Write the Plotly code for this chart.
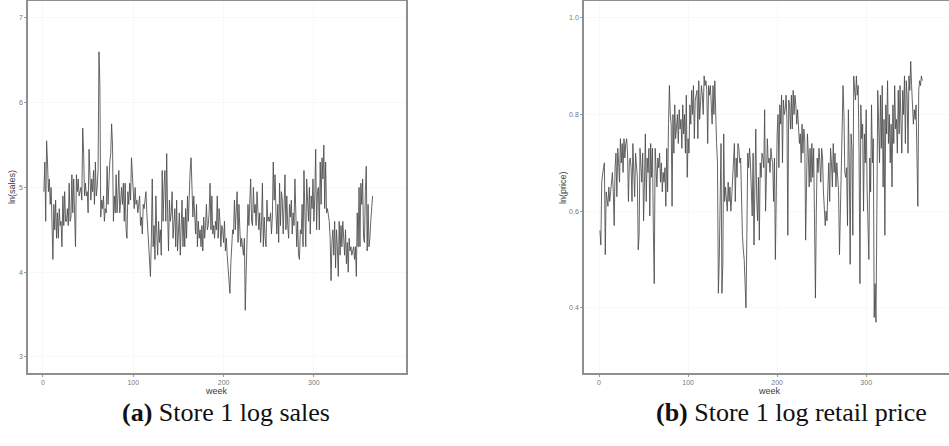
import plotly.graph_objects as go

# ln(sales) for store 1, weeks 1..365
ln_sales = [
    4.95, 5.30, 4.60, 5.55, 5.30, 4.95, 5.10, 4.80, 5.00, 4.70,
    4.15, 4.80, 4.50, 4.85, 4.40, 4.70, 4.40, 4.75, 4.55, 4.60,
    4.30, 4.90, 4.55, 4.95, 4.60, 4.60, 4.75, 4.55, 5.05, 4.60,
    4.65, 5.15, 4.70, 5.10, 4.55, 4.30, 5.15, 4.95, 5.10, 4.90,
    4.95, 5.00, 4.85, 5.70, 5.40, 4.90, 5.05, 4.90, 4.95, 4.70,
    5.45, 5.00, 4.85, 5.10, 4.95, 5.20, 4.80, 5.30, 4.90, 5.00,
    5.20, 6.60, 6.20, 4.65, 4.85, 4.75, 4.90, 4.60, 4.75, 4.70,
    5.25, 4.80, 5.10, 5.30, 5.40, 5.75, 5.50, 4.60, 4.90, 4.70,
    5.15, 4.70, 4.90, 5.20, 4.70, 4.95, 5.00, 4.80, 5.05, 4.60,
    5.05, 4.50, 4.40, 4.95, 4.80, 5.05, 4.85, 5.35, 5.10, 4.90,
    4.75, 5.00, 4.80, 4.85, 4.70, 4.80, 4.90, 4.55, 4.65, 4.45,
    4.80, 4.75, 4.85, 4.95, 4.70, 4.50, 4.30, 4.05, 3.95, 4.40,
    5.10, 4.30, 4.55, 4.15, 4.90, 4.45, 4.20, 4.60, 4.35, 4.50,
    4.20, 5.20, 4.60, 5.00, 5.20, 4.60, 5.40, 4.70, 4.25, 4.85,
    4.60, 4.70, 4.95, 4.40, 4.60, 4.75, 4.30, 4.85, 4.25, 4.60,
    4.70, 4.20, 4.45, 4.85, 4.30, 4.65, 4.30, 4.75, 4.40, 4.90,
    4.60, 4.95, 5.20, 5.35, 4.95, 4.65, 4.90, 4.55, 4.45, 4.80,
    4.30, 4.60, 4.40, 4.50, 4.30, 4.55, 4.25, 4.65, 4.40, 4.55,
    4.80, 4.50, 4.55, 4.70, 5.05, 4.50, 4.90, 4.45, 4.55, 4.40,
    4.60, 4.50, 4.90, 4.40, 4.75, 4.60, 4.30, 4.55, 4.50, 4.35,
    4.60, 4.25, 4.40, 4.20, 4.05, 3.85, 3.75, 4.10, 4.40, 4.50,
    4.45, 4.85, 4.50, 4.70, 4.95, 4.35, 4.80, 4.50, 4.30, 4.40,
    4.25, 4.20, 4.40, 3.55, 4.00, 4.30, 4.80, 4.55, 4.75, 5.10,
    4.60, 4.55, 5.00, 4.70, 4.80, 4.55, 4.95, 4.60, 4.50, 4.70,
    4.35, 4.60, 5.05, 4.30, 4.65, 4.40, 4.30, 4.85, 4.60, 4.65,
    4.60, 4.70, 4.45, 4.65, 5.30, 4.85, 5.15, 4.70, 4.45, 4.80,
    4.35, 5.05, 4.55, 4.95, 4.85, 4.45, 4.70, 5.15, 4.50, 4.90,
    4.55, 4.40, 4.80, 4.65, 4.85, 4.45, 4.70, 4.55, 5.10, 4.50,
    4.30, 4.60, 4.20, 4.15, 4.50, 4.45, 4.80, 4.30, 5.20, 4.70,
    4.30, 5.10, 4.85, 4.60, 5.00, 4.45, 4.90, 4.75, 5.10, 4.60,
    4.90, 5.45, 4.50, 4.95, 5.00, 4.50, 5.30, 4.80, 5.35, 5.10,
    5.50, 4.75, 5.30, 4.70, 4.75, 4.65, 4.60, 4.40, 3.90, 4.35,
    4.50, 4.20, 4.60, 4.05, 4.50, 4.30, 3.95, 4.60, 4.20, 4.55,
    4.30, 4.60, 4.45, 4.20, 4.50, 4.10, 4.35, 4.00, 4.40, 4.25,
    4.30, 4.20, 4.25, 4.30, 4.15, 4.30, 3.95, 4.70, 4.30, 5.00,
    4.30, 5.05, 4.80, 5.10, 4.40, 4.35, 4.95, 5.25, 4.25, 4.80,
    4.30, 4.40, 4.60, 4.85, 4.90,
]

# ln(price) for store 1, weeks 1..363
ln_price = [
    0.56, 0.53, 0.66, 0.68, 0.69, 0.70, 0.51, 0.64, 0.62, 0.61,
    0.65, 0.62, 0.64, 0.66, 0.68, 0.64, 0.57, 0.69, 0.72, 0.63,
    0.73, 0.70, 0.66, 0.75, 0.70, 0.74, 0.68, 0.75, 0.71, 0.74,
    0.75, 0.72, 0.62, 0.70, 0.71, 0.69, 0.62, 0.74, 0.68, 0.63,
    0.72, 0.70, 0.67, 0.52, 0.55, 0.73, 0.69, 0.66, 0.72, 0.58,
    0.66, 0.76, 0.62, 0.71, 0.68, 0.73, 0.59, 0.74, 0.67, 0.73,
    0.56, 0.45, 0.73, 0.68, 0.65, 0.71, 0.69, 0.72, 0.66, 0.70,
    0.64, 0.68, 0.66, 0.69, 0.61, 0.73, 0.64, 0.78, 0.86, 0.80,
    0.78, 0.61, 0.80, 0.72, 0.82, 0.75, 0.78, 0.80, 0.74, 0.81,
    0.77, 0.79, 0.73, 0.82, 0.76, 0.80, 0.72, 0.84, 0.67, 0.75,
    0.72, 0.82, 0.78, 0.85, 0.80, 0.86, 0.75, 0.83, 0.84, 0.85,
    0.75, 0.87, 0.79, 0.82, 0.86, 0.84, 0.80, 0.88, 0.86, 0.87,
    0.85, 0.74, 0.86, 0.84, 0.86, 0.82, 0.78, 0.86, 0.80, 0.87,
    0.78, 0.74, 0.70, 0.43, 0.50, 0.64, 0.74, 0.43, 0.49, 0.76,
    0.62, 0.65, 0.63, 0.60, 0.66, 0.62, 0.65, 0.60, 0.63, 0.66,
    0.70, 0.74, 0.62, 0.71, 0.67, 0.74, 0.73, 0.70, 0.71, 0.62,
    0.55, 0.52, 0.50, 0.45, 0.40, 0.55, 0.72, 0.69, 0.73, 0.70,
    0.66, 0.59, 0.72, 0.53, 0.65, 0.77, 0.63, 0.58, 0.67, 0.54,
    0.70, 0.67, 0.72, 0.71, 0.69, 0.81, 0.60, 0.72, 0.75, 0.70,
    0.71, 0.68, 0.73, 0.71, 0.70, 0.62, 0.71, 0.50, 0.69, 0.76,
    0.80, 0.69, 0.82, 0.78, 0.84, 0.70, 0.83, 0.80, 0.81, 0.84,
    0.79, 0.55, 0.83, 0.82, 0.77, 0.84, 0.77, 0.85, 0.80, 0.84,
    0.82, 0.78, 0.81, 0.78, 0.74, 0.76, 0.70, 0.78, 0.72, 0.77,
    0.75, 0.54, 0.70, 0.76, 0.72, 0.65, 0.73, 0.66, 0.74, 0.67,
    0.73, 0.55, 0.42, 0.60, 0.71, 0.68, 0.73, 0.70, 0.66, 0.73,
    0.71, 0.64, 0.59, 0.57, 0.60, 0.58, 0.65, 0.70, 0.62, 0.73,
    0.70, 0.65, 0.74, 0.68, 0.72, 0.65, 0.70, 0.66, 0.64, 0.51,
    0.62, 0.72, 0.79, 0.86, 0.80, 0.68, 0.67, 0.69, 0.57, 0.81,
    0.70, 0.49, 0.76, 0.73, 0.55, 0.88, 0.85, 0.83, 0.88, 0.84,
    0.86, 0.72, 0.45, 0.82, 0.75, 0.78, 0.60, 0.76, 0.70, 0.81,
    0.65, 0.59, 0.50, 0.71, 0.64, 0.82, 0.70, 0.75, 0.38, 0.45,
    0.37, 0.60, 0.85, 0.78, 0.70, 0.84, 0.73, 0.86, 0.65, 0.79,
    0.55, 0.82, 0.76, 0.87, 0.74, 0.80, 0.70, 0.78, 0.65, 0.82,
    0.74, 0.86, 0.77, 0.79, 0.72, 0.85, 0.76, 0.86, 0.81, 0.72,
    0.85, 0.80, 0.88, 0.74, 0.87, 0.84, 0.72, 0.88, 0.85, 0.91,
    0.86, 0.80, 0.78, 0.81, 0.79, 0.82, 0.66, 0.61, 0.85, 0.87,
    0.86, 0.88, 0.87,
]

weeks_sales = list(range(1, len(ln_sales) + 1))
weeks_price = list(range(1, len(ln_price) + 1))

x_ticks = [0, 100, 200, 300]
sales_ticks = [3, 4, 5, 6, 7]
price_ticks = [0.4, 0.6, 0.8, 1.0]
price_tick_labels = ["0.4", "0.6", "0.8", "1.0"]

captions = ["<b>(a)</b> Store 1 log sales", "<b>(b)</b> Store 1 log retail price"]

W, H = 949, 446
line_col = "#4a4a4a"
frame_col = "#8f8f8f"
tick_font = dict(family="Liberation Sans, Arial, sans-serif", size=7, color="#7a7a7a")

fig = go.Figure()
fig.add_trace(go.Scatter(x=weeks_sales, y=ln_sales, mode="lines",
                         line=dict(color=line_col, width=0.85), xaxis="x", yaxis="y",
                         showlegend=False))
fig.add_trace(go.Scatter(x=weeks_price, y=ln_price, mode="lines",
                         line=dict(color=line_col, width=0.85), xaxis="x2", yaxis="y2",
                         showlegend=False))

ydom = [1 - 373 / H, 1 - 1 / H]

common_x = dict(showgrid=True, gridcolor="#f8f8f8", gridwidth=0.5, zeroline=False,
                showline=True, linecolor=frame_col, linewidth=1.5, mirror=True,
                ticks="outside", ticklen=2, tickcolor="#9a9a9a", tickfont=tick_font,
                tickvals=x_ticks)
common_y = dict(showgrid=True, gridcolor="#f8f8f8", gridwidth=0.5, zeroline=False,
                showline=True, linecolor=frame_col, linewidth=1.5,
                ticks="outside", ticklen=2, tickcolor="#9a9a9a", tickfont=tick_font)

fig.update_layout(
    width=W, height=H,
    margin=dict(l=0, r=0, t=0, b=0),
    paper_bgcolor="white", plot_bgcolor="white",
    xaxis=dict(common_x, domain=[28 / W, 406 / W], range=[-16.6, 402], anchor="y"),
    yaxis=dict(common_y, domain=ydom, range=[2.81, 7.2], tickvals=sales_ticks,
               mirror=True, anchor="x"),
    xaxis2=dict(common_x, domain=[584 / W, 1.0], range=[-16.9, 393], anchor="y2"),
    yaxis2=dict(common_y, domain=ydom, range=[0.265, 1.035], tickvals=price_ticks,
                ticktext=price_tick_labels, mirror=False, anchor="x2"),
)

ann_font = dict(family="Liberation Sans, Arial, sans-serif", size=9, color="#3c3c3c")
cap_font = dict(family="Liberation Serif, Times New Roman, serif", size=26, color="#111")
annotations = [
    dict(text="week", x=216, y=391, font=ann_font),
    dict(text="week", x=769, y=391, font=ann_font),
    dict(text="ln(sales)", x=12, y=187, font=ann_font, textangle=-90),
    dict(text="ln(price)", x=563, y=188, font=ann_font, textangle=-90),
    dict(text=captions[0], x=226, y=412, font=cap_font),
    dict(text=captions[1], x=791, y=412, font=cap_font),
]
for a in annotations:
    fig.add_annotation(xref="paper", yref="paper", x=a["x"] / W, y=1 - a["y"] / H,
                       text=a["text"], showarrow=False, font=a["font"],
                       textangle=a.get("textangle", 0), xanchor="center", yanchor="middle")

fig.write_html("out.html",
               config={"displayModeBar": False},
               post_script="document.body.style.margin='0';document.body.style.overflow='hidden';")
